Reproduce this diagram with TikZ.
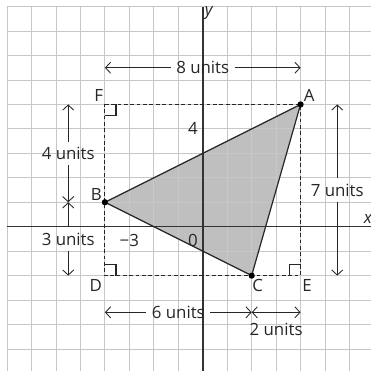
\documentclass[tikz,border=0pt]{standalone}
\usepackage{fontspec}
\setmainfont{Open Sans}
\usetikzlibrary{arrows.meta}
\begin{document}
\begin{tikzpicture}[x=0.5cm, y=0.5cm,
  font=\fontsize{9.8}{12}\selectfont,
  >={Straight Barb[length=3pt, width=6.5pt]},
  gridline/.style={draw=black!22, line width=0.5pt, step=0.5cm},
  axis/.style={draw=black!80, line width=0.9pt},
  dim/.style={draw=black!85, line width=0.5pt},
  dot/.style={circle, fill=black, inner sep=0pt, minimum size=3.5pt},
  lbl/.style={text=black!85, inner sep=3pt},
  tag/.style={text=black!85, inner sep=0pt}
]
\useasboundingbox (-8.29,-5.9) rectangle (6.88,9.27);
\clip (-8.29,-5.9) rectangle (6.88,9.27);
\node[dot] (A) at (4,5) {};
\node[dot] (B) at (-4,1) {};
\node[dot] (C) at (2,-2) {};
\coordinate (D) at (-4,-2);
\coordinate (E) at (4,-2);
\coordinate (F) at (-4,5);
\fill[black!25] (A.center) -- (B.center) -- (C.center) -- cycle;
\draw[gridline] (-8,-6) grid (7,9);
\coordinate (xl) at (-8,0);
\coordinate (xr) at (6.9,0);
\coordinate (yb) at (0,-5.9);
\coordinate (yt) at (0,9);
\draw[axis] (xl) -- (xr);
\draw[axis] (yb) -- (yt);
\draw[dim, line width=0.65pt, dash pattern=on 2.2pt off 1.5pt] (F) -- (A.center) -- (E) -- (D) -- cycle;
\draw[dim, line width=0.7pt] (A.center) -- (B.center) -- (C.center) -- cycle;
\node[dot] at (A) {};
\node[dot] at (B) {};
\node[dot] at (C) {};
% right angles
\draw[dim, line width=0.7pt] (F) ++(0,-0.45) -- ++(0.45,0) -- ++(0,0.45);
\draw[dim, line width=0.7pt] (D) ++(0,0.45) -- ++(0.45,0) -- ++(0,-0.45);
\draw[dim, line width=0.7pt] (E) ++(0,0.45) -- ++(-0.45,0) -- ++(0,-0.45);
% labels
\node[tag] (lA) at (4.35,5.35) {A};
\node[tag] (lB) at (-4.35,1.33) {B};
\node[tag] (lC) at (2.25,-2.42) {C};
\node[tag] (lD) at (-4.37,-2.4) {D};
\node[tag] (lE) at (4.27,-2.42) {E};
\node[tag] (lF) at (-4.25,5.35) {F};
\node[tag] (t4) at (-0.4,4) {4};
\node[tag] (tm3) at (-3,-0.55) {−3};
\node[tag] (t0) at (-0.4,-0.55) {0};
\node[tag] (lx) at (6.75,0.33) {\itshape x};
\node[tag] (ly) at (0.25,8.72) {\itshape y};
% dimensions
\node[lbl] (w8) at (0,6.5) {8 units};
\coordinate (w8l) at (-4,6.5);
\coordinate (w8r) at (4,6.5);
\draw[dim, ->] (w8) -- (w8l);
\draw[dim, ->] (w8) -- (w8r);
\node[lbl] (h4) at (-5.5,3) {4 units};
\coordinate (h4t) at (-5.5,5);
\coordinate (h4b) at (-5.5,1);
\draw[dim, ->] (h4) -- (h4t);
\draw[dim, ->] (h4) -- (h4b);
\node[lbl] (h3) at (-5.5,-0.5) {3 units};
\coordinate (h3b) at (-5.5,-2);
\draw[dim, ->] (h3) -- (h4b);
\draw[dim, ->] (h3) -- (h3b);
\node[lbl] (h7) at (5.5,1.5) {7 units};
\coordinate (h7t) at (5.5,5);
\coordinate (h7b) at (5.5,-2);
\draw[dim, ->] (h7) -- (h7t);
\draw[dim, ->] (h7) -- (h7b);
\node[lbl] (w6) at (-1,-3.5) {6 units};
\coordinate (w6l) at (-4,-3.5);
\coordinate (w6r) at (2,-3.5);
\coordinate (w2r) at (4,-3.5);
\draw[dim, ->] (w6) -- (w6l);
\draw[dim, ->] (w6) -- (w6r);
\draw[dim, <->] (w6r) -- (w2r);
\node[lbl] (w2) at (3,-4.18) {2 units};
\end{tikzpicture}
\end{document}
